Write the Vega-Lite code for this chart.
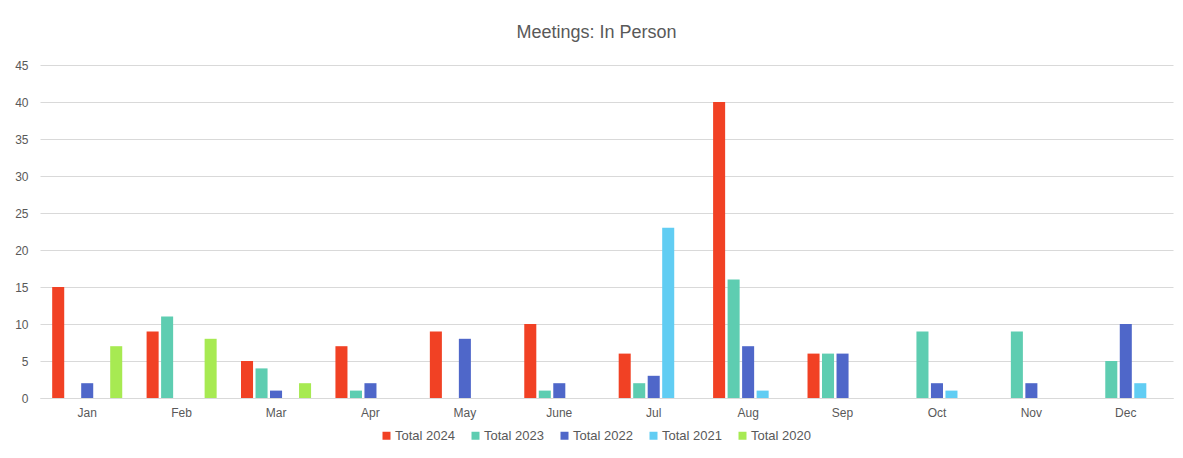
{
  "$schema": "https://vega.github.io/schema/vega-lite/v6.json",
  "autosize": {"type": "none"},
  "width": 1133,
  "height": 333,
  "padding": {"left": 40, "top": 65, "right": 10, "bottom": 60},
  "background": "white",
  "title": {"text": "Meetings: In Person", "fontSize": 18, "font": "Liberation Sans", "fontWeight": "normal", "color": "#595959", "offset": 17, "dx": -10},
  "config": {
    "font": "Liberation Sans",
    "view": {"stroke": null},
    "axis": {"labelColor": "#595959", "labelFontSize": 12, "titleColor": "#595959"},
    "legend": {"labelColor": "#595959", "labelFontSize": 13}
  },
  "data": {"values": [
    {"month": "Jan", "series": "Total 2024", "value": 15},
    {"month": "Jan", "series": "Total 2023", "value": 0},
    {"month": "Jan", "series": "Total 2022", "value": 2},
    {"month": "Jan", "series": "Total 2021", "value": 0},
    {"month": "Jan", "series": "Total 2020", "value": 7},
    {"month": "Feb", "series": "Total 2024", "value": 9},
    {"month": "Feb", "series": "Total 2023", "value": 11},
    {"month": "Feb", "series": "Total 2022", "value": 0},
    {"month": "Feb", "series": "Total 2021", "value": 0},
    {"month": "Feb", "series": "Total 2020", "value": 8},
    {"month": "Mar", "series": "Total 2024", "value": 5},
    {"month": "Mar", "series": "Total 2023", "value": 4},
    {"month": "Mar", "series": "Total 2022", "value": 1},
    {"month": "Mar", "series": "Total 2021", "value": 0},
    {"month": "Mar", "series": "Total 2020", "value": 2},
    {"month": "Apr", "series": "Total 2024", "value": 7},
    {"month": "Apr", "series": "Total 2023", "value": 1},
    {"month": "Apr", "series": "Total 2022", "value": 2},
    {"month": "Apr", "series": "Total 2021", "value": 0},
    {"month": "Apr", "series": "Total 2020", "value": 0},
    {"month": "May", "series": "Total 2024", "value": 9},
    {"month": "May", "series": "Total 2023", "value": 0},
    {"month": "May", "series": "Total 2022", "value": 8},
    {"month": "May", "series": "Total 2021", "value": 0},
    {"month": "May", "series": "Total 2020", "value": 0},
    {"month": "June", "series": "Total 2024", "value": 10},
    {"month": "June", "series": "Total 2023", "value": 1},
    {"month": "June", "series": "Total 2022", "value": 2},
    {"month": "June", "series": "Total 2021", "value": 0},
    {"month": "June", "series": "Total 2020", "value": 0},
    {"month": "Jul", "series": "Total 2024", "value": 6},
    {"month": "Jul", "series": "Total 2023", "value": 2},
    {"month": "Jul", "series": "Total 2022", "value": 3},
    {"month": "Jul", "series": "Total 2021", "value": 23},
    {"month": "Jul", "series": "Total 2020", "value": 0},
    {"month": "Aug", "series": "Total 2024", "value": 40},
    {"month": "Aug", "series": "Total 2023", "value": 16},
    {"month": "Aug", "series": "Total 2022", "value": 7},
    {"month": "Aug", "series": "Total 2021", "value": 1},
    {"month": "Aug", "series": "Total 2020", "value": 0},
    {"month": "Sep", "series": "Total 2024", "value": 6},
    {"month": "Sep", "series": "Total 2023", "value": 6},
    {"month": "Sep", "series": "Total 2022", "value": 6},
    {"month": "Sep", "series": "Total 2021", "value": 0},
    {"month": "Sep", "series": "Total 2020", "value": 0},
    {"month": "Oct", "series": "Total 2024", "value": 0},
    {"month": "Oct", "series": "Total 2023", "value": 9},
    {"month": "Oct", "series": "Total 2022", "value": 2},
    {"month": "Oct", "series": "Total 2021", "value": 1},
    {"month": "Oct", "series": "Total 2020", "value": 0},
    {"month": "Nov", "series": "Total 2024", "value": 0},
    {"month": "Nov", "series": "Total 2023", "value": 9},
    {"month": "Nov", "series": "Total 2022", "value": 2},
    {"month": "Nov", "series": "Total 2021", "value": 0},
    {"month": "Nov", "series": "Total 2020", "value": 0},
    {"month": "Dec", "series": "Total 2024", "value": 0},
    {"month": "Dec", "series": "Total 2023", "value": 5},
    {"month": "Dec", "series": "Total 2022", "value": 10},
    {"month": "Dec", "series": "Total 2021", "value": 2},
    {"month": "Dec", "series": "Total 2020", "value": 0}
  ]},
  "mark": {"type": "bar"},
  "encoding": {
    "x": {
      "field": "month", "type": "nominal",
      "scale": {"domain": ["Jan","Feb","Mar","Apr","May","June","Jul","Aug","Sep","Oct","Nov","Dec"], "paddingInner": 0, "paddingOuter": 0},
      "axis": {"title": null, "labelAngle": 0, "ticks": false, "domainColor": "#d9d9d9", "domainWidth": 1, "labelPadding": 9, "grid": false}
    },
    "xOffset": {
      "field": "series", "type": "nominal",
      "scale": {"domain": ["Total 2024","Total 2023","Total 2022","Total 2021","Total 2020"], "paddingInner": 0.17, "paddingOuter": 0.84}
    },
    "y": {
      "field": "value", "type": "quantitative",
      "scale": {"domain": [0, 45], "nice": false},
      "axis": {"title": null, "values": [0,5,10,15,20,25,30,35,40,45], "domain": false, "ticks": false, "gridColor": "#d9d9d9", "labelPadding": 12}
    },
    "color": {
      "field": "series", "type": "nominal",
      "scale": {"domain": ["Total 2024","Total 2023","Total 2022","Total 2021","Total 2020"], "range": ["#F14124","#5ECDB1","#4F67C9","#61CDF3","#A7EA52"]},
      "legend": {"title": null, "orient": "none", "legendX": 340, "legendY": 364, "direction": "horizontal", "symbolType": "square", "symbolSize": 64, "symbolStrokeWidth": 0, "symbolOpacity": 1, "columnPadding": 14, "labelOffset": 2}
    }
  }
}
